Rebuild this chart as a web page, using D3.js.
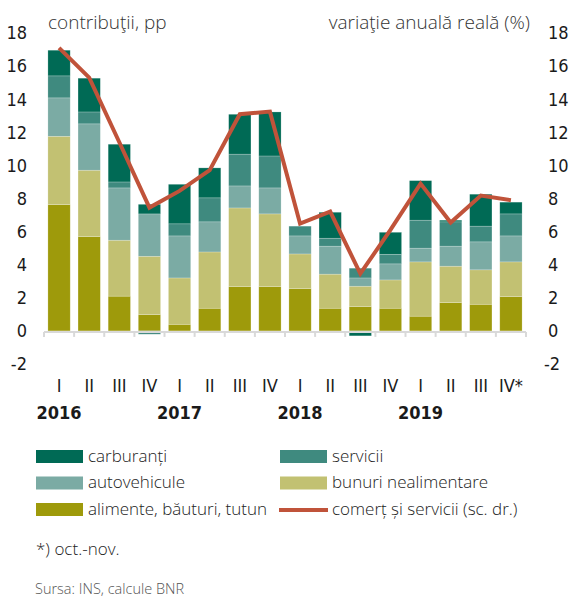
<!DOCTYPE html>
<html>
<head>
<meta charset="utf-8">
<script src="https://cdn.jsdelivr.net/npm/d3@7"></script>
<style>
  body { margin: 0; background: #fff; }
  svg { display: block; }
</style>
</head>
<body>
<svg id="vis"></svg>
<script>
// data
const quarters = ['I', 'II', 'III', 'IV', 'I', 'II', 'III', 'IV', 'I', 'II', 'III', 'IV', 'I', 'II', 'III', 'IV*']
const years = ['2016', '', '', '', '2017', '', '', '', '2018', '', '', '', '2019', '', '', '']
const alimente = [7.63, 5.70, 2.10, 0.98, 0.40, 1.37, 2.68, 2.68, 2.56, 1.37, 1.47, 1.37, 0.89, 1.71, 1.61, 2.07]
const nealimentare = [4.13, 4.01, 3.38, 3.53, 2.80, 3.40, 4.75, 4.39, 2.09, 2.06, 1.23, 1.71, 3.28, 2.20, 2.08, 2.10]
const autovehicule = [2.32, 2.80, 3.16, 2.56, 2.54, 1.82, 1.33, 1.57, 1.09, 1.69, 0.50, 0.97, 0.83, 1.21, 1.69, 1.57]
const servicii = [1.33, 0.72, 0.36, -0.2, 0.73, 1.45, 1.92, 1.93, 0.59, 0.48, 0.59, 0.58, 1.69, 1.47, 0.95, 1.33]
const carburanti = [1.55, 2.04, 2.28, 0.58, 2.39, 1.81, 2.41, 2.66, 0, 1.57, -0.3, 1.33, 2.39, 0.1, 1.93, 0.71]
const comert = [17.1, 15.3, 11.4, 7.45, 8.46, 9.71, 13.09, 13.25, 6.48, 7.21, 3.46, 6.1, 8.9, 6.55, 8.18, 7.9]
const yTicks = [-2, 0, 2, 4, 6, 8, 10, 12, 14, 16, 18]

const seriesNames = ['alimente, băuturi, tutun', 'bunuri nealimentare', 'autovehicule', 'servicii', 'carburanți']
const seriesValues = [alimente, nealimentare, autovehicule, servicii, carburanti]
const colors = ['#9e9a0b', '#c2c172', '#7babA4', '#3f8a7f', '#006a55']
const LINE_COLOR = '#c0533a'

const W = 574, H = 599
const svg = d3.select('#vis').attr('width', W).attr('height', H)

const x = d3.scaleBand().domain(d3.range(quarters.length)).range([44, 526]).paddingInner(0.26).paddingOuter(0.13)
const y = d3.scaleLinear().domain([-2, 18]).range([364, 33])

// stacked bars, positives upward and negatives downward
const table = quarters.map((q, i) => {
    const row = { i: i }
    seriesValues.forEach((s, k) => row[k] = s[i])
    return row
})
const stack = d3.stack().keys(d3.range(seriesValues.length)).offset(d3.stackOffsetDiverging)
const layers = stack(table)

svg.append('g').selectAll('g')
    .data(layers)
    .join('g')
        .attr('fill', (d, k) => colors[k])
    .selectAll('rect')
    .data(d => d)
    .join('rect')
        .attr('x', d => x(d.data.i))
        .attr('width', x.bandwidth())
        .attr('y', d => y(Math.max(d[0], d[1])))
        .attr('height', d => Math.abs(y(d[0]) - y(d[1])))
        .attr('stroke', 'rgba(255,255,255,0.35)')
        .attr('stroke-width', 0.6)

// zero axis with boundary ticks
const axisG = svg.append('g')
axisG.append('line')
    .attr('x1', 44).attr('x2', 526)
    .attr('y1', y(0) + 1).attr('y2', y(0) + 1)
    .attr('stroke', '#d9d9d9').attr('stroke-width', 2)
d3.range(quarters.length + 1).forEach(i => {
    const xb = 44 + i * x.step()
    axisG.append('line')
        .attr('x1', xb).attr('x2', xb)
        .attr('y1', y(0) + 1).attr('y2', y(0) + 6)
        .attr('stroke', '#d9d9d9').attr('stroke-width', 2)
})

// line on the right scale (same range)
const line = d3.line()
    .x((d, i) => x(i) + x.bandwidth() / 2)
    .y(d => y(d))
svg.append('path')
    .datum(comert)
    .attr('d', line)
    .attr('fill', 'none')
    .attr('stroke', LINE_COLOR)
    .attr('stroke-width', 4)
    .attr('stroke-linejoin', 'miter')

// y axes both sides
const tickFont = '"Liberation Sans Narrow", "DejaVu Sans Condensed", sans-serif'
svg.append('g').selectAll('text')
    .data(yTicks)
    .join('text')
        .attr('x', 27)
        .attr('y', d => y(d))
        .attr('dy', '0.35em')
        .attr('text-anchor', 'end')
        .attr('font-family', tickFont)
        .attr('font-size', 18)
        .attr('fill', '#1a1a1a')
        .text(d => d)
svg.append('g').selectAll('text')
    .data(yTicks)
    .join('text')
        .attr('x', d => d < 0 ? 544 : 548)
        .attr('y', d => y(d))
        .attr('dy', '0.35em')
        .attr('text-anchor', 'start')
        .attr('font-family', tickFont)
        .attr('font-size', 18)
        .attr('fill', '#1a1a1a')
        .text(d => d)

// x labels
svg.append('g').selectAll('text')
    .data(quarters)
    .join('text')
        .attr('x', (d, i) => x(i) + x.bandwidth() / 2)
        .attr('y', 392)
        .attr('text-anchor', 'middle')
        .attr('font-family', tickFont)
        .attr('font-size', 18)
        .attr('fill', '#1a1a1a')
        .text(d => d)
svg.append('g').selectAll('text')
    .data(years)
    .join('text')
        .attr('x', (d, i) => x(i) + x.bandwidth() / 2)
        .attr('y', 419)
        .attr('text-anchor', 'middle')
        .attr('font-family', tickFont)
        .attr('font-size', 18)
        .attr('font-weight', 'bold')
        .attr('fill', '#1a1a1a')
        .text(d => d)

// axis titles
const textFont = '"Open Sans", "Noto Sans", sans-serif'
svg.append('text')
    .attr('x', 48).attr('y', 29)
    .attr('font-family', textFont).attr('font-size', 19).attr('font-weight', 300)
    .attr('fill', '#333')
    .text('contribuţii, pp')
svg.append('text')
    .attr('x', 530).attr('y', 29)
    .attr('text-anchor', 'end')
    .attr('font-family', textFont).attr('font-size', 19).attr('font-weight', 300)
    .attr('fill', '#333')
    .text('variaţie anuală reală (%)')

// legend
const legendItems = [
    { name: 'carburanți', color: colors[4], col: 0, row: 0 },
    { name: 'servicii', color: colors[3], col: 1, row: 0 },
    { name: 'autovehicule', color: colors[2], col: 0, row: 1 },
    { name: 'bunuri nealimentare', color: colors[1], col: 1, row: 1 },
    { name: 'alimente, băuturi, tutun', color: colors[0], col: 0, row: 2 },
    { name: 'comerț și servicii (sc. dr.)', color: LINE_COLOR, col: 1, row: 2, isLine: true }
]
const legend = svg.append('g')
legendItems.forEach(d => {
    const lx = d.col === 0 ? 36 : 280
    const ly = 456 + d.row * 26.5
    if (d.isLine) {
        legend.append('line')
            .attr('x1', lx - 1).attr('x2', lx + 48)
            .attr('y1', ly + 1).attr('y2', ly + 1)
            .attr('stroke', d.color).attr('stroke-width', 4)
    } else {
        legend.append('rect')
            .attr('x', lx).attr('y', ly - 6)
            .attr('width', 47).attr('height', 13)
            .attr('fill', d.color)
    }
    legend.append('text')
        .attr('x', lx + 52).attr('y', ly)
        .attr('dy', '0.35em')
        .attr('font-family', textFont).attr('font-size', 17).attr('font-weight', 300)
        .attr('fill', '#222')
        .text(d.name)
})

svg.append('text')
    .attr('x', 36).attr('y', 555)
    .attr('font-family', textFont).attr('font-size', 17).attr('font-weight', 300)
    .attr('fill', '#222')
    .text('*) oct.-nov.')

svg.append('text')
    .attr('x', 35).attr('y', 594)
    .attr('font-family', textFont).attr('font-size', 14.5).attr('font-weight', 300)
    .attr('fill', '#555')
    .text('Sursa: INS, calcule BNR')
</script>
</body>
</html>
